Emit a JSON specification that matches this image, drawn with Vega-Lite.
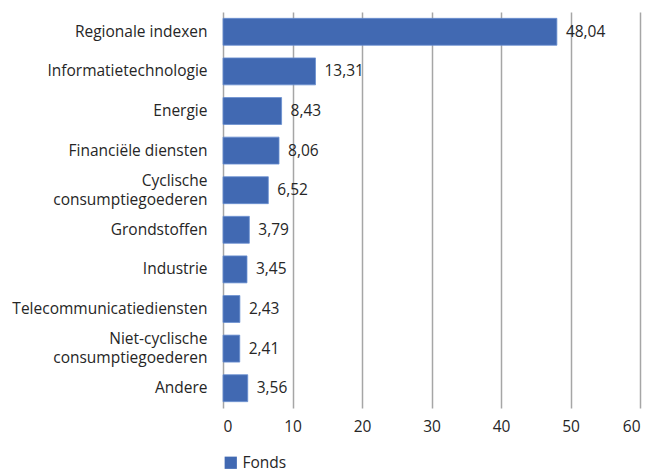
{
  "$schema": "https://vega.github.io/schema/vega-lite/v6.json",
  "width": 417,
  "height": 396,
  "autosize": {"type": "none"},
  "padding": {"left": 223, "top": 12, "right": 12, "bottom": 64},
  "config": {
    "view": {"stroke": null},
    "font": "Open Sans",
    "locale": {"number": {"decimal": ",", "thousands": ".", "grouping": [3], "currency": ["€", ""]}}
  },
  "data": {
    "values": [
      {"sector": "Regionale indexen", "value": 48.04},
      {"sector": "Informatietechnologie", "value": 13.31},
      {"sector": "Energie", "value": 8.43},
      {"sector": "Financiële diensten", "value": 8.06},
      {"sector": "Cyclische consumptiegoederen", "value": 6.52},
      {"sector": "Grondstoffen", "value": 3.79},
      {"sector": "Industrie", "value": 3.45},
      {"sector": "Telecommunicatiediensten", "value": 2.43},
      {"sector": "Niet-cyclische consumptiegoederen", "value": 2.41},
      {"sector": "Andere", "value": 3.56}
    ]
  },
  "encoding": {
    "y": {
      "field": "sector",
      "type": "nominal",
      "sort": null,
      "scale": {"paddingInner": 0.32, "paddingOuter": 0.16},
      "axis": {
        "title": null,
        "domain": false,
        "ticks": false,
        "labelFont": "Open Sans",
        "labelFontSize": 15.5,
        "labelColor": "#262626",
        "labelPadding": 16,
        "labelLineHeight": 19,
        "labelLimit": 300,
        "labelOffset": {"condition": {"test": "indexof(datum.value, ' consumptiegoederen') > 0", "value": -9.5}, "value": 0},
        "labelExpr": "indexof(datum.label, ' consumptiegoederen') > 0 ? [replace(datum.label, ' consumptiegoederen', ''), 'consumptiegoederen'] : datum.label"
      }
    },
    "x": {
      "field": "value",
      "type": "quantitative",
      "scale": {"domain": [0, 60]},
      "axis": {
        "title": null,
        "values": [0, 10, 20, 30, 40, 50, 60],
        "domain": false,
        "ticks": false,
        "grid": true,
        "gridColor": "#a6a6a6",
        "gridWidth": 1.5,
        "labelFont": "Open Sans",
        "labelFontSize": 15.5,
        "labelColor": "#262626",
        "labelPadding": 11,
        "format": "d"
      }
    }
  },
  "layer": [
    {
      "mark": {"type": "bar", "stroke": "#6a8fd0", "strokeWidth": 0.8},
      "encoding": {
        "color": {
          "datum": "Fonds",
          "type": "nominal",
          "scale": {"range": ["#4169b2"]},
          "legend": {
            "title": null,
            "orient": "bottom",
            "symbolType": "square",
            "symbolSize": 150,
            "symbolStrokeWidth": 0,
            "labelFont": "Open Sans",
            "labelFontSize": 15.5,
            "labelColor": "#262626",
            "offset": 20,
            "padding": 0
          }
        }
      }
    },
    {
      "mark": {"type": "text", "align": "left", "dx": 9, "font": "Open Sans", "fontSize": 15.5, "color": "#262626"},
      "encoding": {
        "text": {"field": "value", "type": "quantitative", "format": ".2f"}
      }
    }
  ]
}
